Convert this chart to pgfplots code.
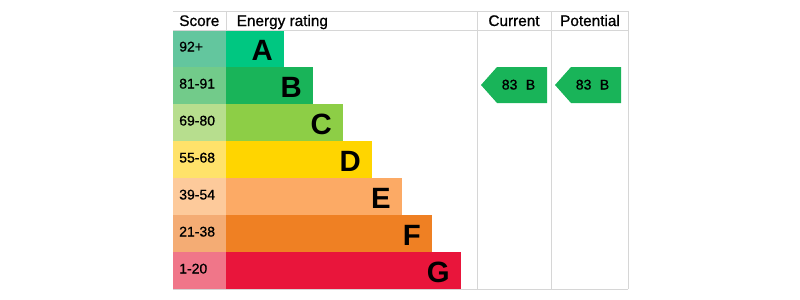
\documentclass[border=0pt]{standalone}
\usepackage{pgfplots}
\pgfplotsset{compat=1.18}
\usepackage{fontspec}
\setmainfont{Liberation Sans}
\newfontfamily\med[FakeBold=0.9]{Liberation Sans}
\definecolor{barA}{HTML}{00C781}\definecolor{scA}{HTML}{63C69E}
\definecolor{barB}{HTML}{19B459}\definecolor{scB}{HTML}{72CB8A}
\definecolor{barC}{HTML}{8DCE46}\definecolor{scC}{HTML}{B7DE8E}
\definecolor{barD}{HTML}{FFD500}\definecolor{scD}{HTML}{FFE26A}
\definecolor{barE}{HTML}{FCAA65}\definecolor{scE}{HTML}{FDCA9B}
\definecolor{barF}{HTML}{EF8023}\definecolor{scF}{HTML}{F4AC74}
\definecolor{barG}{HTML}{E9153B}\definecolor{scG}{HTML}{F07689}
\definecolor{gridc}{HTML}{D6D6D6}
\begin{document}
\begin{tikzpicture}
\begin{axis}[scale only axis, width=600pt, height=225pt,
  xmin=0, xmax=800, ymin=0, ymax=300, y dir=reverse,
  hide axis, clip=false]
\draw[draw=none] (axis cs:0,0) rectangle (axis cs:800,300);
% score cells
\addplot[draw=none, fill=scA] coordinates {(173,30) (226,30) (226,67) (173,67)} --cycle;
\addplot[draw=none, fill=scB] coordinates {(173,67) (226,67) (226,104) (173,104)} --cycle;
\addplot[draw=none, fill=scC] coordinates {(173,104) (226,104) (226,141) (173,141)} --cycle;
\addplot[draw=none, fill=scD] coordinates {(173,141) (226,141) (226,178) (173,178)} --cycle;
\addplot[draw=none, fill=scE] coordinates {(173,178) (226,178) (226,215) (173,215)} --cycle;
\addplot[draw=none, fill=scF] coordinates {(173,215) (226,215) (226,252) (173,252)} --cycle;
\addplot[draw=none, fill=scG] coordinates {(173,252) (226,252) (226,289) (173,289)} --cycle;
% rating bars
\addplot[draw=none, fill=barA] coordinates {(226,30) (284,30) (284,67) (226,67)} --cycle;
\addplot[draw=none, fill=barB] coordinates {(226,67) (313,67) (313,104) (226,104)} --cycle;
\addplot[draw=none, fill=barC] coordinates {(226,104) (343,104) (343,141) (226,141)} --cycle;
\addplot[draw=none, fill=barD] coordinates {(226,141) (372,141) (372,178) (226,178)} --cycle;
\addplot[draw=none, fill=barE] coordinates {(226,178) (402,178) (402,215) (226,215)} --cycle;
\addplot[draw=none, fill=barF] coordinates {(226,215) (432,215) (432,252) (226,252)} --cycle;
\addplot[draw=none, fill=barG] coordinates {(226,252) (461,252) (461,289) (226,289)} --cycle;
% grid lines
\addplot[gridc, line width=0.75pt] coordinates {(173,11) (628,11)};
\addplot[gridc, line width=0.75pt] coordinates {(173,30) (628,30)};
\addplot[gridc, line width=0.75pt] coordinates {(173,289.5) (628,289.5)};
\addplot[gridc, line width=0.75pt] coordinates {(226,11) (226,30)};
\addplot[gridc, line width=0.75pt] coordinates {(477,11) (477,289)};
\addplot[gridc, line width=0.75pt] coordinates {(551,11) (551,289)};
\addplot[gridc, line width=0.75pt] coordinates {(628,11) (628,289)};
% arrows
\addplot[draw=none, fill=barB] coordinates {(481,85) (497,67) (547,67) (547,103) (497,103)} --cycle;
\addplot[draw=none, fill=barB] coordinates {(555,85) (571,67) (621,67) (621,103) (571,103)} --cycle;
% headers
\node[anchor=base west, inner sep=0pt, font=\fontsize{11.5}{13}\med] at (axis cs:179,26) {Score};
\node[anchor=base west, inner sep=0pt, font=\fontsize{11.5}{13}\med] at (axis cs:236.5,26) {Energy rating};
\node[anchor=base, inner sep=0pt, font=\fontsize{11.5}{13}\med] at (axis cs:514,26) {Current};
\node[anchor=base, inner sep=0pt, font=\fontsize{11.5}{13}\med] at (axis cs:590,26) {Potential};
% score labels
\foreach \lab/\yy in {92+/51.5, 81-91/88.5, 69-80/125.5, 55-68/162.5, 39-54/199.5, 21-38/236.5, 1-20/273.5}{
  \edef\tmp{\noexpand\node[anchor=base west, inner sep=0pt, font=\noexpand\fontsize{10.5}{12}\noexpand\med] at (axis cs:179,\yy) {\lab};}\tmp
}
% letters
\node[anchor=base east, inner sep=0pt, font=\fontsize{22}{24}\selectfont\bfseries] at (axis cs:273,60.5) {A};
\node[anchor=base east, inner sep=0pt, font=\fontsize{22}{24}\selectfont\bfseries] at (axis cs:302,97.5) {B};
\node[anchor=base east, inner sep=0pt, font=\fontsize{22}{24}\selectfont\bfseries] at (axis cs:332,134.5) {C};
\node[anchor=base east, inner sep=0pt, font=\fontsize{22}{24}\selectfont\bfseries] at (axis cs:361,171.5) {D};
\node[anchor=base east, inner sep=0pt, font=\fontsize{22}{24}\selectfont\bfseries] at (axis cs:391,208.5) {E};
\node[anchor=base east, inner sep=0pt, font=\fontsize{22}{24}\selectfont\bfseries] at (axis cs:421,245.5) {F};
\node[anchor=base east, inner sep=0pt, font=\fontsize{22}{24}\selectfont\bfseries] at (axis cs:450,282.5) {G};
% arrow labels
\node[anchor=base, inner sep=0pt, font=\fontsize{10.5}{12}\med] at (axis cs:518.5,89.5) {83\hspace{0.6em}B};
\node[anchor=base, inner sep=0pt, font=\fontsize{10.5}{12}\med] at (axis cs:592.5,89.5) {83\hspace{0.6em}B};
\end{axis}
\end{tikzpicture}
\end{document}
